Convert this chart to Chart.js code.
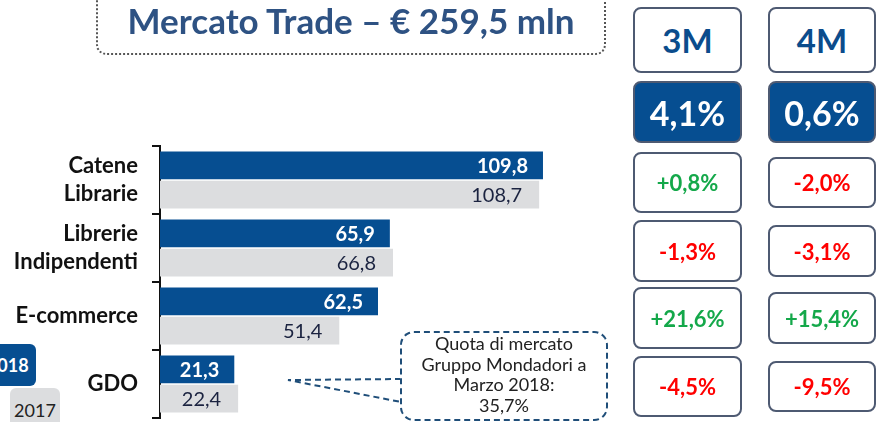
<!DOCTYPE html>
<html>
<head>
<meta charset="utf-8">
<script src="https://cdn.jsdelivr.net/npm/chart.js@4"></script>
<style>
    body { margin: 0; width: 876px; height: 422px; overflow: hidden; background: #fff; font-family: Lato, "Open Sans", sans-serif; position: relative; }
    #chartWrap { position: absolute; left: 0; top: 0; width: 600px; height: 422px; }
    .title { position: absolute; left: 96px; top: -12px; width: 510px; height: 67px; border: 2px dotted #555; border-radius: 10px; box-sizing: border-box; }
    .title span { position: absolute; left: 0; right: 0; top: 12px; line-height: 36px; text-align: center; font-weight: 700; font-size: 35px; color: #2E5283; white-space: nowrap; }
    .box { position: absolute; box-sizing: border-box; border: 2px solid #4E5A72; border-radius: 8px; background: #fff; display: flex; align-items: center; justify-content: center; font-weight: 700; }
    .box.head { color: #0B4C8C; font-size: 33px; }
    .box.total { background: #064E91; color: #fff; font-size: 34px; }
    .box.pct { font-size: 22px; }
    .legend { position: absolute; display: flex; align-items: center; justify-content: center; border-radius: 6px; font-size: 18px; }
    .callout { position: absolute; left: 400px; top: 331px; width: 208px; height: 90px; box-sizing: border-box; border: 2px dashed #1F4E79; border-radius: 14px; text-align: center; font-size: 18px; line-height: 20.5px; color: #222; padding-top: 0; background: #fff; white-space: nowrap; }
    svg { position: absolute; left: 0; top: 0; }
</style>
</head>
<body>
<div id="chartWrap"><canvas id="tradeChart" width="600" height="422"></canvas></div>

<div class="title"><span>Mercato Trade – € 259,5 mln</span></div>

<svg width="876" height="422">
    <path d="M 401 379 L 288 380 L 401 402" fill="none" stroke="#1F4E79" stroke-width="2" stroke-dasharray="6,4"/>
</svg>
<div class="callout">Quota di mercato<br>Gruppo Mondadori a<br>Marzo 2018:<br>35,7%</div>

<div class="legend" style="left:-10px; top:344px; width:46px; height:42px; background:#064E91; color:#fff; font-weight:700;">018</div>
<div class="legend" style="left:10px; top:388px; width:50px; height:40px; background:#DCDDDF; color:#222; padding-top:2px;">2017</div>

<div id="boxes"></div>

<script>
// Categories and values (milioni di euro)
const categories = [['Catene', 'Librarie'], ['Librerie', 'Indipendenti'], 'E-commerce', 'GDO'];
const values2018 = [109.8, 65.9, 62.5, 21.3];
const values2017 = [108.7, 66.8, 51.4, 22.4];

// Variazioni per periodo
const periods = ['3M', '4M'];
const totalChange = ['4,1%', '0,6%'];
const change3M = ['+0,8%', '-1,3%', '+21,6%', '-4,5%'];
const change4M = ['-2,0%', '-3,1%', '+15,4%', '-9,5%'];

const blue = '#064E91';
const grey = '#DCDDDF';

function fmt(v) {
    return v.toFixed(1).replace('.', ',');
}

// Draw value labels inside the bar ends
const valueLabels = {
    id: 'valueLabels',
    afterDatasetsDraw(chart) {
        const ctx = chart.ctx;
        chart.data.datasets.forEach((ds, i) => {
            const meta = chart.getDatasetMeta(i);
            meta.data.forEach((bar, j) => {
                ctx.save();
                ctx.textAlign = 'right';
                ctx.textBaseline = 'middle';
                if (i === 0) {
                    ctx.font = 'bold 20px Lato';
                    ctx.fillStyle = '#fff';
                    ctx.fillText(fmt(ds.data[j]), bar.x - 15, bar.y + 1);
                } else {
                    ctx.font = '20px Lato';
                    ctx.fillStyle = '#1B2340';
                    ctx.fillText(fmt(ds.data[j]), bar.x - 17, bar.y + 1);
                }
                ctx.restore();
            });
        });
    }
};

new Chart(document.getElementById('tradeChart'), {
    type: 'bar',
    data: {
        labels: categories,
        datasets: [
            { label: '2018', data: values2018, backgroundColor: blue, categoryPercentage: 0.86, barPercentage: 0.95 },
            { label: '2017', data: values2017, backgroundColor: grey, categoryPercentage: 0.86, barPercentage: 0.95 }
        ]
    },
    options: {
        indexAxis: 'y',
        responsive: false,
        animation: false,
        layout: { padding: { top: 146, bottom: 4, right: 4, left: 0 } },
        plugins: { legend: { display: false }, tooltip: { enabled: false } },
        scales: {
            x: { display: false, min: 0, max: 125 },
            y: {
                afterFit(scale) {
                    scale.width = 160;
                    scale.paddingTop = 0;
                    scale.paddingBottom = 0;
                },
                border: { display: true, color: '#111', width: 2 },
                grid: { drawOnChartArea: false, tickLength: 8, color: '#111', lineWidth: 2 },
                ticks: { color: '#111', padding: 14, font: { family: 'Lato', weight: 'bold', size: 22, lineHeight: 1.3 } }
            }
        }
    },
    plugins: [valueLabels]
});

// Right-hand boxes with changes
const boxes = document.getElementById('boxes');
const cols = [{ left: 633, width: 109 }, { left: 768, width: 108 }];
const rowsCol1 = [[7, 66], [81, 62], [152, 61], [220, 62], [287, 62], [356, 61]];
const rowsCol2 = [[7, 66], [81, 62], [157, 51], [225, 52], [292, 52], [361, 51]];

function addBox(cls, text, col, row, color) {
    const d = document.createElement('div');
    d.className = 'box ' + cls;
    d.style.left = col.left + 'px';
    d.style.width = col.width + 'px';
    d.style.top = row[0] + 'px';
    d.style.height = row[1] + 'px';
    if (color) d.style.color = color;
    d.textContent = text;
    boxes.appendChild(d);
}

[change3M, change4M].forEach((list, c) => {
    const rows = c === 0 ? rowsCol1 : rowsCol2;
    addBox('head', periods[c], cols[c], rows[0]);
    addBox('total', totalChange[c], cols[c], rows[1]);
    list.forEach((t, k) => {
        addBox('pct', t, cols[c], rows[k + 2], t[0] === '+' ? '#14A84A' : '#FF0000');
    });
});
</script>
</body>
</html>
